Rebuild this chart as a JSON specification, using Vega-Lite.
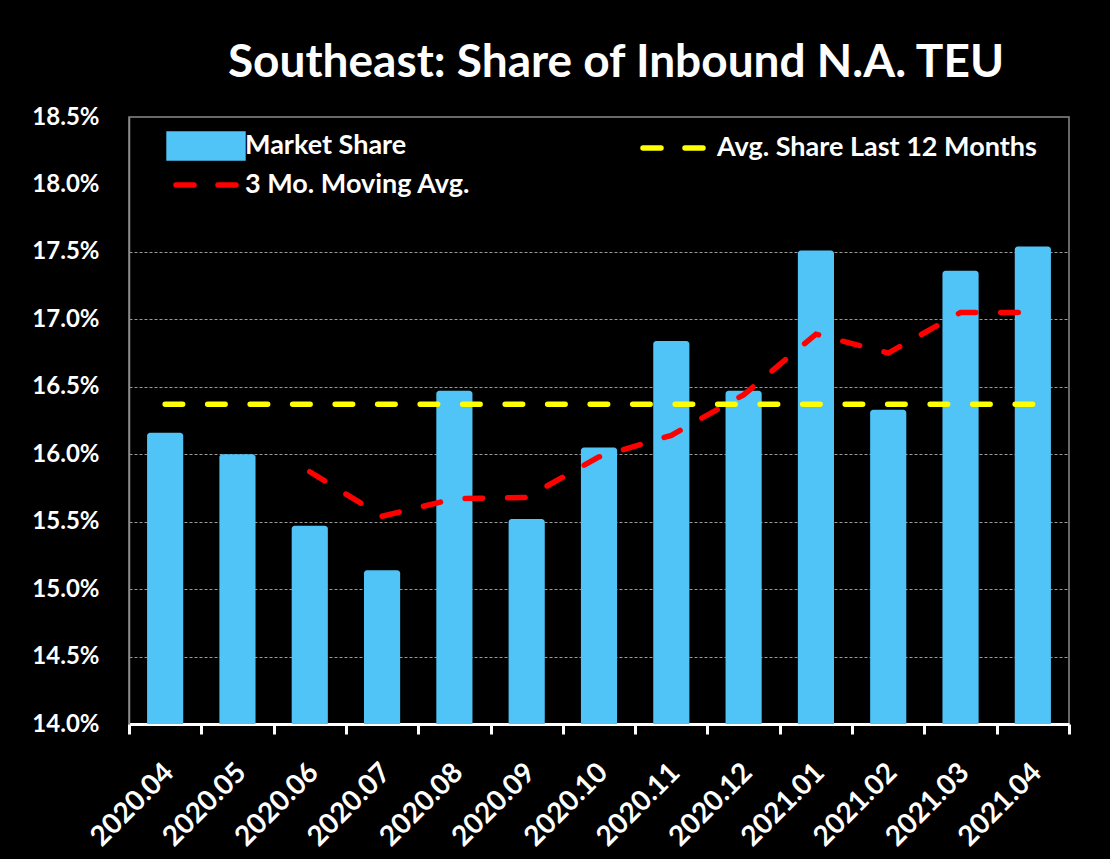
{
  "$schema": "https://vega.github.io/schema/vega-lite/v6.json",
  "width": 940,
  "height": 607,
  "autosize": {"type": "none"},
  "padding": {"left": 129, "top": 117, "right": 41, "bottom": 135},
  "background": "black",
  "title": {
    "text": "Southeast: Share of Inbound N.A. TEU",
    "color": "white",
    "font": "Lato",
    "fontWeight": "bold",
    "fontSize": 46,
    "anchor": "middle",
    "dx": 17,
    "offset": 18
  },
  "data": {
    "values": [
      {"month": "2020.04", "share": 0.1616, "ma": null, "avg": 0.1637},
      {"month": "2020.05", "share": 0.1600, "ma": null, "avg": 0.1637},
      {"month": "2020.06", "share": 0.1547, "ma": 0.1587, "avg": 0.1637},
      {"month": "2020.07", "share": 0.1514, "ma": 0.1554, "avg": 0.1637},
      {"month": "2020.08", "share": 0.1647, "ma": 0.1567, "avg": 0.1637},
      {"month": "2020.09", "share": 0.1552, "ma": 0.1568, "avg": 0.1637},
      {"month": "2020.10", "share": 0.1605, "ma": 0.1598, "avg": 0.1637},
      {"month": "2020.11", "share": 0.1684, "ma": 0.1614, "avg": 0.1637},
      {"month": "2020.12", "share": 0.1647, "ma": 0.1644, "avg": 0.1637},
      {"month": "2021.01", "share": 0.1751, "ma": 0.1689, "avg": 0.1637},
      {"month": "2021.02", "share": 0.1633, "ma": 0.1675, "avg": 0.1637},
      {"month": "2021.03", "share": 0.1736, "ma": 0.1705, "avg": 0.1637},
      {"month": "2021.04", "share": 0.1754, "ma": 0.1705, "avg": 0.1637}
    ]
  },
  "encoding": {
    "x": {
      "field": "month",
      "type": "nominal",
      "sort": null,
      "scale": {"paddingInner": 0, "paddingOuter": 0},
      "axis": {
        "title": null,
        "labelAngle": -45,
        "labelAlign": "right",
        "labelBaseline": "middle",
        "labelFont": "Lato",
        "labelFontWeight": "bold",
        "labelFontSize": 28,
        "labelColor": "white",
        "labelOffset": 4,
        "domainColor": "white",
        "domainWidth": 3,
        "tickColor": "white",
        "tickWidth": 3,
        "tickSize": 10,
        "tickBand": "extent",
        "labelPadding": 34
      }
    }
  },
  "layer": [
    {
      "mark": {"type": "bar", "width": {"band": 0.5}, "cornerRadiusTopLeft": 3, "cornerRadiusTopRight": 3},
      "encoding": {
        "y": {
          "field": "share",
          "type": "quantitative",
          "scale": {"domain": [0.14, 0.185], "nice": false, "zero": false},
          "axis": {
            "title": null,
            "values": [0.14, 0.145, 0.15, 0.155, 0.16, 0.165, 0.17, 0.175, 0.18, 0.185],
            "format": ".1%",
            "labelFont": "Lato",
            "labelFontWeight": "bold",
            "labelFontSize": 24,
            "labelColor": "white",
            "labelPadding": 30,
            "ticks": false,
            "domainColor": "#8a8a8a",
            "domainWidth": 1.5,
            "gridColor": "#9a9a9a",
            "gridDash": [3, 2],
            "gridWidth": 1,
            "gridOpacity": {"condition": {"test": "datum.value > 0.1795", "value": 0}, "value": 1}
          }
        },
        "y2": {"datum": 0.14},
        "color": {
          "datum": "Market Share",
          "scale": {
            "domain": ["Market Share", "Avg. Share Last 12 Months", "3 Mo. Moving Avg."],
            "range": ["#50C3F7", "#FFFF00", "#FF0000"]
          },
          "legend": {
            "title": null,
            "direction": "horizontal",
            "encode": {
              "symbols": {
                "update": {
                  "shape": {"signal": "datum.value === 'Market Share' ? 'M-3.08,-1H3.08V1H-3.08Z' : (datum.value === '3 Mo. Moving Avg.' ? 'M-2.5,0H-1M1,0H2.5' : 'M-2.5,-0.5H-1M1,-0.5H2.5')"},
                  "fill": {"signal": "datum.value === 'Market Share' ? '#50C3F7' : 'transparent'"},
                  "stroke": {"signal": "datum.value === 'Market Share' ? 'transparent' : (datum.value === '3 Mo. Moving Avg.' ? '#FF0000' : '#FFFF00')"},
                  "strokeWidth": {"value": 5.5},
                  "strokeCap": {"value": "round"},
                  "strokeDash": {"value": [1, 0]},
                  "opacity": {"value": 1}
                }
              },
              "labels": {
                "update": {
                  "dy": {"signal": "datum.value === 'Avg. Share Last 12 Months' ? -6 : 0"},
                  "dx": {"signal": "datum.value === 'Avg. Share Last 12 Months' ? 5 : 0"}
                }
              }
            }
          }
        }
      }
    },
    {
      "mark": {"type": "line", "strokeWidth": 5.5, "strokeDash": [17.5, 25], "strokeCap": "round"},
      "encoding": {
        "y": {"field": "avg", "type": "quantitative"},
        "color": {"datum": "Avg. Share Last 12 Months"}
      }
    },
    {
      "mark": {"type": "line", "strokeWidth": 5.5, "strokeDash": [17.5, 25], "strokeCap": "round"},
      "encoding": {
        "y": {"field": "ma", "type": "quantitative"},
        "color": {"datum": "3 Mo. Moving Avg."}
      }
    }
  ],
  "config": {
    "view": {"stroke": "#8a8a8a", "strokeWidth": 1.5},
    "legend": {
      "orient": "none",
      "legendX": 54,
      "legendY": 6,
      "columns": 2,
      "columnPadding": 161,
      "rowPadding": 1,
      "padding": 8,
      "fillColor": "black",
      "labelColor": "white",
      "labelFont": "Lato",
      "labelFontWeight": "bold",
      "labelFontSize": 27,
      "labelLimit": 600,
      "symbolSize": 576,
      "labelOffset": 24
    }
  }
}
